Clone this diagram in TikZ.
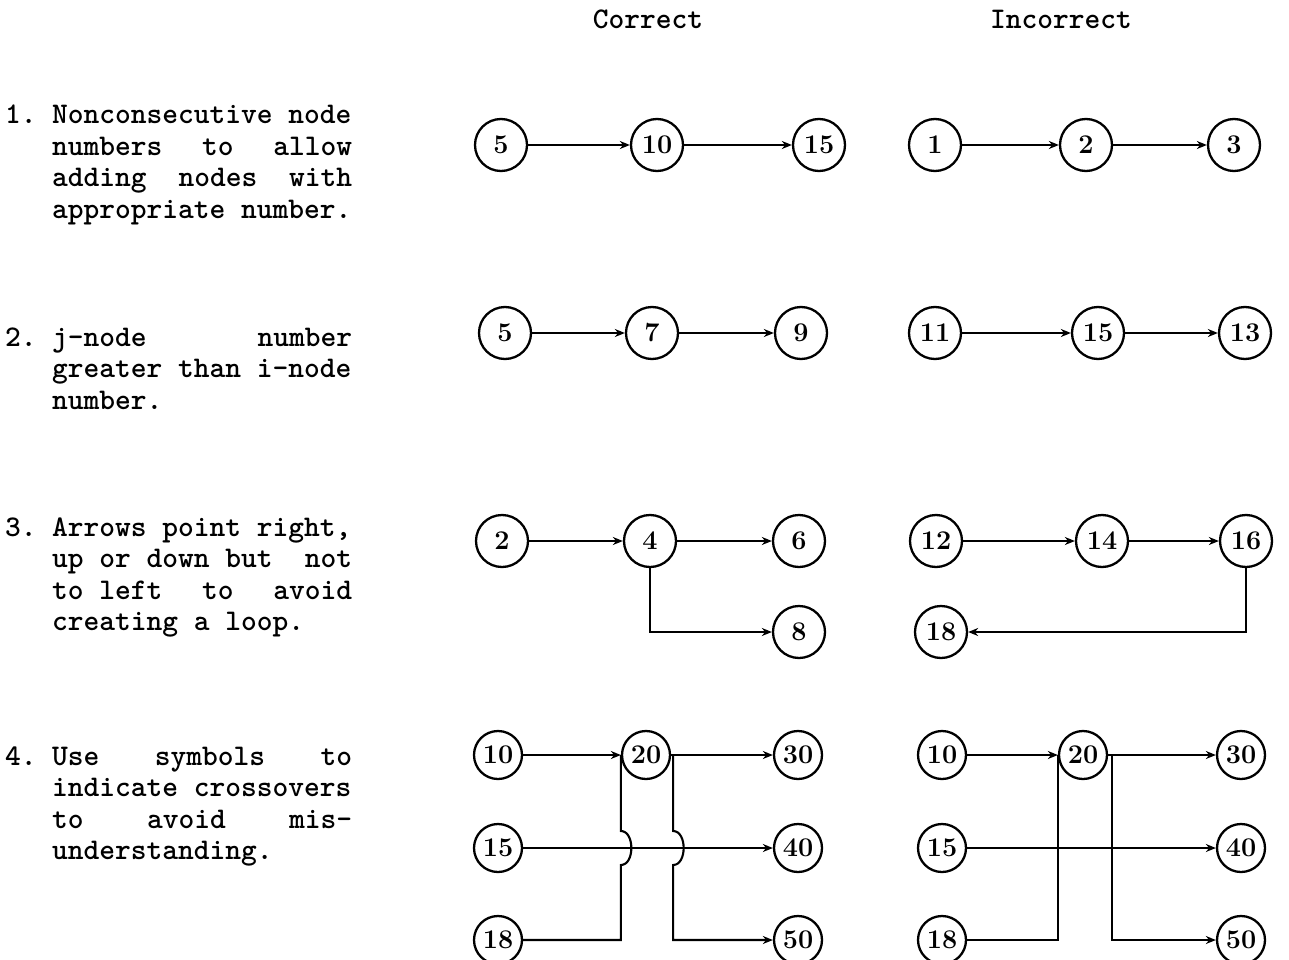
\documentclass[tikz,border=0pt]{standalone}
\usepackage{tikz}
\usetikzlibrary{arrows.meta,positioning,calc}

\begin{document}
\begin{tikzpicture}[
  x=1pt, y=-1pt,
  arrow/.style={-{Stealth[length=10pt,width=8pt]}, line width=2.1pt},
  link/.style={line width=2.1pt},
  event/.style={circle, draw, line width=2.3pt, minimum size=52pt, inner sep=0pt,
    font=\bfseries\fontsize{27}{27}\selectfont},
  smallevent/.style={event, minimum size=48pt},
  rule/.style={anchor=base west, inner sep=0pt, font=\ttfamily\bfseries\fontsize{30}{31.5}\selectfont},
  head/.style={anchor=base, inner sep=0pt, font=\ttfamily\bfseries\fontsize{30}{31.5}\selectfont}
]
\useasboundingbox (0,0) rectangle (1289,960);

% Column headings
\node[head] (hcorrect) at (648,29) {Correct};
\node[head] (hincorrect) at (1061,29) {Incorrect};

% Rules on the left
\node[rule] (rule1) at (5,124) {\makebox[47pt][l]{1.}\parbox[t]{300pt}{Nonconsecutive node\\
  numbers\hfill to\hfill allow\\adding\hfill nodes\hfill with\\appropriate number.}};
\node[rule] (rule2) at (5,346) {\makebox[47pt][l]{2.}\parbox[t]{300pt}{j-node\hfill number\\
  greater than i-node\\number.}};
\node[rule] (rule3) at (5,536) {\makebox[47pt][l]{3.}\parbox[t]{300pt}{Arrows point right,\\
  up or down but\hfill not\\to left\hfill to\hfill avoid\\creating a loop.}};
\node[rule] (rule4) at (5,765) {\makebox[47pt][l]{4.}\parbox[t]{300pt}{Use\hfill symbols\hfill to\\
  indicate crossovers\\to\hfill avoid\hfill mis-\\understanding.}};

% Row 1: node numbering
\foreach \n/\x in {5/501, 10/657, 15/819}
  \node[event] (al\n) at (\x,145) {\n};
\foreach \n/\x in {1/935, 2/1086, 3/1234}
  \node[event] (ar\n) at (\x,145) {\n};
\draw[arrow] (al5) -- (al10);
\draw[arrow] (al10) -- (al15);
\draw[arrow] (ar1) -- (ar2);
\draw[arrow] (ar2) -- (ar3);

% Row 2: j greater than i
\foreach \n/\x in {5/505, 7/652, 9/801}
  \node[event] (bl\n) at (\x,333) {\n};
\foreach \n/\x in {11/935, 15/1098, 13/1245}
  \node[event] (br\n) at (\x,333) {\n};
\draw[arrow] (bl5) -- (bl7);
\draw[arrow] (bl7) -- (bl9);
\draw[arrow] (br11) -- (br15);
\draw[arrow] (br15) -- (br13);

% Row 3: no arrows to the left
\foreach \n/\x in {2/502, 4/650, 6/799}
  \node[event] (cl\n) at (\x,541) {\n};
\node[event] (cl8) at (799,632) {8};
\foreach \n/\x in {12/936, 14/1102, 16/1246}
  \node[event] (cr\n) at (\x,541) {\n};
\node[event] (cr18) at (941,632) {18};
\draw[arrow] (cl2) -- (cl4);
\draw[arrow] (cl4) -- (cl6);
\draw[arrow] (cl4.south) |- (cl8);
\draw[arrow] (cr12) -- (cr14);
\draw[arrow] (cr14) -- (cr16);
\draw[arrow] (cr16.south) |- (cr18);

% Row 4: crossovers
\foreach \n/\y in {10/755, 15/848, 18/940}
  \node[smallevent] (dl\n) at (498,\y) {\n};
\foreach \n/\y in {30/755, 40/848, 50/940}
  \node[smallevent] (dl\n) at (798,\y) {\n};
\node[smallevent] (dl20) at (646,755) {20};
\foreach \n/\y in {10/755, 15/848, 18/940}
  \node[smallevent] (dr\n) at (942,\y) {\n};
\foreach \n/\y in {30/755, 40/848, 50/940}
  \node[smallevent] (dr\n) at (1241,\y) {\n};
\node[smallevent] (dr20) at (1083,755) {20};

% correct: hops over the 15-40 line
\coordinate (ja) at (dl20.west);
\coordinate (jb) at ($(dl20.east)+(2,0)$);
\draw[arrow] (dl10) -- (dl20);
\draw[arrow] (dl15) -- (dl40);
\draw[arrow] (dl20.east) -- (dl30);
\draw[link] (dl18) -- (dl18 -| ja) -- ($(dl15 -| ja)+(0,17)$)
  .. controls +(14,0) and +(14,0) .. ($(dl15 -| ja)+(0,-17)$) -- (ja);
\draw[arrow] (jb) -- ($(dl15 -| jb)+(0,-17)$)
  .. controls +(14,0) and +(14,0) .. ($(dl15 -| jb)+(0,17)$) -- (dl50 -| jb) -- (dl50);

% incorrect: plain crossings
\coordinate (jd) at ($(dr20.east)+(4,0)$);
\draw[arrow] (dr10) -- (dr20);
\draw[arrow] (dr15) -- (dr40);
\draw[arrow] (dr20.east) -- (dr30);
\draw[link] (dr18) -| (dr20.west);
\draw[arrow] (jd) |- (dr50);

\end{tikzpicture}
\end{document}
